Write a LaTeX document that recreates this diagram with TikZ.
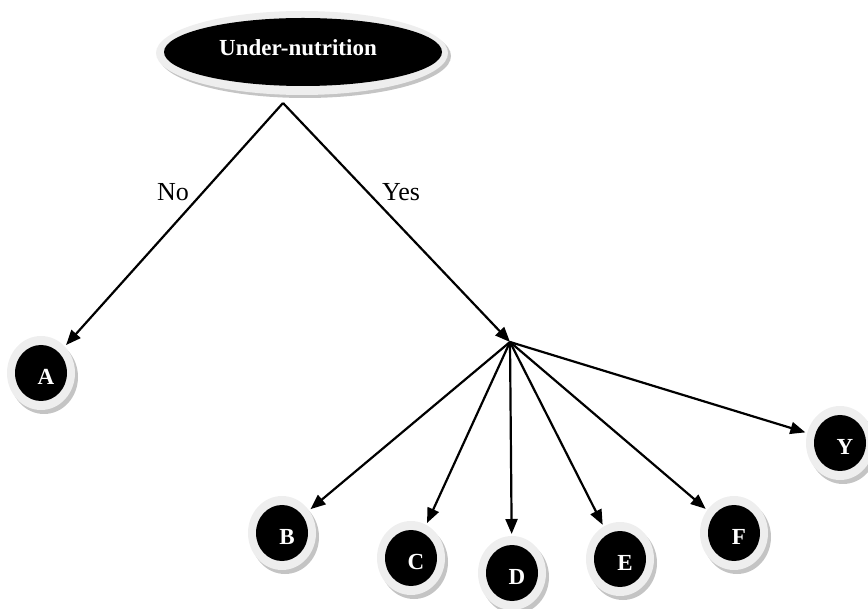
\documentclass[tikz,border=0pt]{standalone}
\usepackage{fontspec}
\setmainfont{Liberation Serif}
\usetikzlibrary{arrows.meta,shapes.geometric}
\definecolor{ringc}{HTML}{EEEEEE}
\definecolor{shadc}{HTML}{C4C4C4}
\newcommand\mycirc[4]{%
  \node[shad] at (#2+3,#3+4) {};
  \node[ringnode] (#1) at (#2,#3) {};
  \node[core] at (#2,#3) {};
  \node[lab] (#1t) at (#2+5,#3+4) {#4};
}
\begin{document}
\begin{tikzpicture}[x=1pt,y=-1pt,
  shad/.style={ellipse, fill=shadc, minimum width=68pt, minimum height=74pt, inner sep=0pt},
  ringnode/.style={ellipse, fill=ringc, minimum width=68pt, minimum height=74pt, inner sep=0pt, outer sep=2pt},
  core/.style={ellipse, fill=black, minimum width=52pt, minimum height=56pt, inner sep=0pt},
  lab/.style={text=white, font=\bfseries\fontsize{23}{23}\selectfont, inner sep=0pt},
  txt/.style={font=\fontsize{26}{26}\selectfont, inner sep=0pt},
  arr/.style={line width=2.2pt, -{Triangle[length=15pt,width=12pt]}},
]
\useasboundingbox (0,0) rectangle (868,609);
% top node
\node[ellipse, fill=shadc, minimum width=292pt, minimum height=84pt, inner sep=0pt] at (305,56) {};
\node[ellipse, fill=ringc, minimum width=292pt, minimum height=84pt, inner sep=0pt] (top) at (302,53) {};
\node[ellipse, fill=black, minimum width=278pt, minimum height=68pt, inner sep=0pt] at (303,52) {};
\node[lab] (topt) at (298,48) {Under-nutrition};
% leaf nodes
\mycirc{A}{41}{373}{A}
\mycirc{B}{282}{533}{B}
\mycirc{C}{411}{558}{C}
\mycirc{D}{512}{573}{D}
\mycirc{E}{620}{559}{E}
\mycirc{F}{734}{533}{F}
\mycirc{Y}{840}{443}{Y}
% connectors
\coordinate (apex) at (283,103);
\coordinate (fan) at (510,342);
\draw[arr] (apex) -- (A);
\draw[arr] (apex) -- (fan);
\foreach \n in {B,C,D,E,F,Y} \draw[arr] (fan) -- (\n);
% labels
\node[txt] (no) at (173,192) {No};
\node[txt] (yes) at (401,192) {Yes};
\end{tikzpicture}
\end{document}
